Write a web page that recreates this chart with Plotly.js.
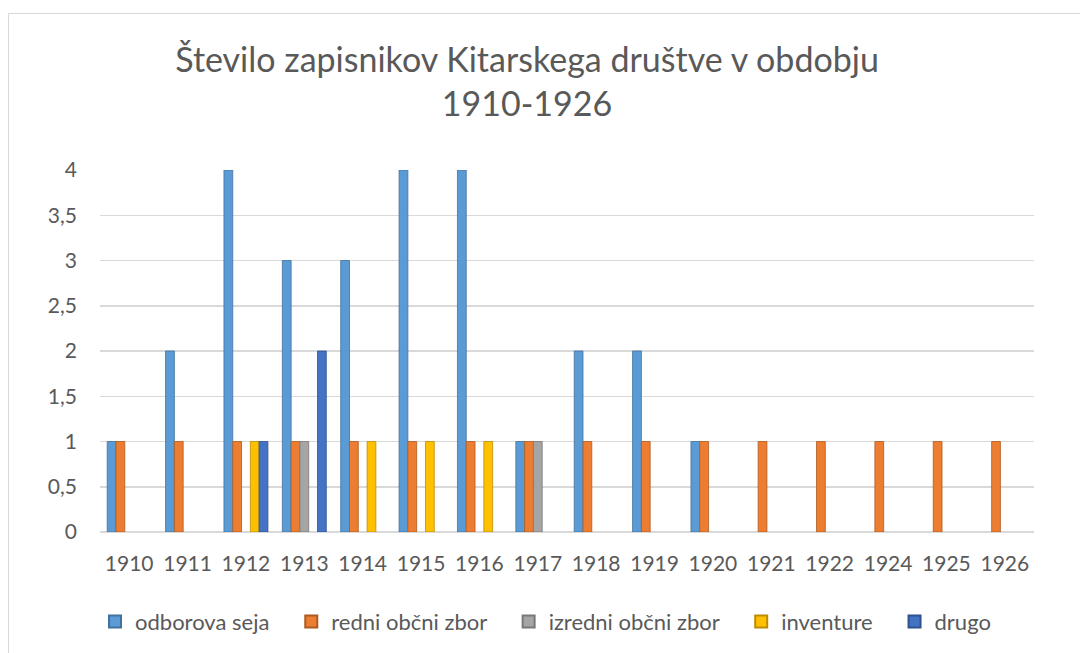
<!DOCTYPE html>
<html>
<head>
<meta charset="utf-8">
<script src="https://cdn.plot.ly/plotly-3.0.1.min.js"></script>
<style>
html,body{margin:0;padding:0;background:#ffffff;}
#frame{position:absolute;left:8px;top:13px;width:1200px;height:800px;border:1px solid #d9d9d9;}
#chart{position:absolute;left:0;top:0;width:1080px;height:653px;}
</style>
</head>
<body>
<div id="frame"></div>
<div id="chart"></div>
<script>
const years = ['1910','1911','1912','1913','1914','1915','1916','1917','1918','1919','1920','1921','1922','1924','1925','1926'];
const odborovaSeja   = [1,2,4,3,3,4,4,1,2,2,1,0,0,0,0,0];
const redniObcniZbor = [1,1,1,1,1,1,1,1,1,1,1,1,1,1,1,1];
const izredniObcniZbor = [0,0,0,1,0,0,0,1,0,0,0,0,0,0,0,0];
const inventure      = [0,0,1,0,1,1,1,0,0,0,0,0,0,0,0,0];
const drugo          = [0,0,1,2,0,0,0,0,0,0,0,0,0,0,0,0];
const seriesNames = ['odborova seja','redni občni zbor','izredni občni zbor','inventure','drugo'];
const yTicks = [0,0.5,1,1.5,2,2.5,3,3.5,4];

const colors = ['#5B9BD5','#ED7D31','#A5A5A5','#FFC000','#4472C4'];
const lines  = ['#41719C','#AE5A21','#787878','#BC8C00','#2F528F'];
const values = [odborovaSeja, redniObcniZbor, izredniObcniZbor, inventure, drugo];
const pad = '\u00a0\u00a0\u00a0';

const traces = values.map((v,i)=>({
  type:'bar', name: seriesNames[i] + (i < values.length-1 ? pad : ''), x: years, y: v,
  marker:{color: colors[i], line:{color: lines[i], width: v.map(d => d ? 0.8 : 0)}},
  hoverinfo:'x+y+name'
}));

const font = 'Lato, "Open Sans", sans-serif';
const layout = {
  width:1080, height:653,
  paper_bgcolor:'rgba(0,0,0,0)', plot_bgcolor:'rgba(0,0,0,0)',
  margin:{l:100, r:46, t:170, b:121, autoexpand:false},
  separators:',.',
  font:{family:font, color:'#595959', size:20},
  title:{text:'Število zapisnikov Kitarskega društve v obdobju<br>1910-1926',
    font:{family:font, size:34, color:'#595959'},
    xref:'container', x:0.488, xanchor:'center',
    yref:'container', y:0.89, yanchor:'top'},
  barmode:'group', bargap:0.247, bargroupgap:0,
  xaxis:{type:'category', showgrid:false, zeroline:false, showline:false,
    ticks:'', ticklabelstandoff:17, tickfont:{size:21, color:'#595959'}},
  yaxis:{range:[0,4], tickvals:yTicks, showgrid:true, gridcolor:'#d9d9d9', gridwidth:1.5,
    zeroline:true, zerolinecolor:'#d9d9d9', zerolinewidth:1.5, showline:false,
    ticks:'', ticklabelstandoff:22, tickfont:{size:21, color:'#595959'}},
  legend:{orientation:'h', x:0.477, xanchor:'center', yref:'container', y:0.048, yanchor:'middle',
    font:{size:22, color:'#595959'}, itemsizing:'constant', traceorder:'normal'},
  showlegend:true
};
Plotly.newPlot('chart', traces, layout, {displayModeBar:false, staticPlot:true});
</script>
</body>
</html>
